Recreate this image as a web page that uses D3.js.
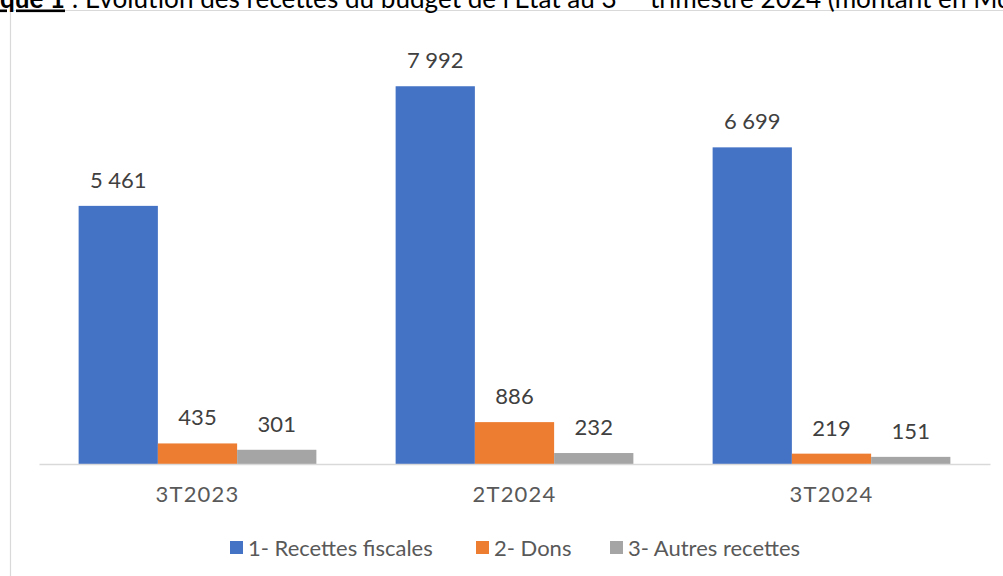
<!DOCTYPE html>
<html lang="fr">
<head>
<meta charset="UTF-8">
<title>Recettes du budget de l'Etat</title>
<script src="https://cdn.jsdelivr.net/npm/d3@7"></script>
<style>
    body { margin: 0; background: #fff; }
    svg { display: block; font-family: Lato, "Open Sans", sans-serif; }
</style>
</head>
<body>
<svg id="chart" width="1003" height="576"></svg>
<script>
// données (montants en milliards)
const categories = ['3T2023', '2T2024', '3T2024'];
const series = ['1- Recettes fiscales', '2- Dons', '3- Autres recettes'];
const recettesFiscales = [5461, 7992, 6699];
const dons = [435, 886, 219];
const autresRecettes = [301, 232, 151];
const colors = ['#4472C4', '#ED7D31', '#A5A5A5'];

const values = [recettesFiscales, dons, autresRecettes];
const fmt = v => d3.format(',')(v).replace(/,/g, '\u202F');

const svg = d3.select('#chart');
const W = 1003, H = 576;
const plot = { left: 39, right: 990, top: 38.6, bottom: 464 };

// cadre du graphique
svg.append('path')
    .attr('d', `M10.5,${H} V10.5 H${W}`)
    .attr('fill', 'none')
    .attr('stroke', '#D9D9D9')
    .attr('stroke-width', 1.2);

// titre (coupé en haut de l'image) : "que 1" doit commencer à x=0 et "3" finir vers x=617
const title = svg.append('text')
    .attr('y', 7.5)
    .attr('font-family', 'Lato, sans-serif')
    .attr('font-size', 24)
    .attr('fill', '#000');
const bold = title.append('tspan').attr('font-weight', 'bold').attr('text-decoration', 'underline').text('Graphi');
const hw = bold.node().getComputedTextLength();
bold.text('Graphique 1');
const part1 = title.append('tspan').text(' : Évolution des recettes du budget de l\u2019Etat au 3');
const visibleW = bold.node().getComputedTextLength() - hw + part1.node().getComputedTextLength();
const fs = 24 * 617 / visibleW;
title.attr('font-size', fs).attr('x', -hw * fs / 24);
title.append('tspan').attr('font-size', fs * 0.6).attr('dy', -fs * 0.5).text('ème');
const part2 = title.append('tspan').attr('dy', fs * 0.5).text(' trimestre 2024 (montant en Mds FCFA)');
// recale "trimestre" vers x=650
const p2x = part2.node().getStartPositionOfChar(1).x;
part2.attr('dx', 650 - p2x);

const x0 = d3.scaleBand().domain(categories).range([plot.left, plot.right]).paddingInner(0).paddingOuter(0);
const x1 = d3.scaleBand().domain(series).range([x0.bandwidth() * 0.125, x0.bandwidth() * 0.875]);
const y = d3.scaleLinear().domain([0, 9000]).range([plot.bottom, plot.top]);

const groups = svg.selectAll('g.cat')
    .data(categories)
    .join('g')
    .attr('class', 'cat')
    .attr('transform', d => `translate(${x0(d)},0)`);

groups.each(function (cat, ci) {
    const g = d3.select(this);
    series.forEach((s, si) => {
        const v = values[si][ci];
        g.append('rect')
            .attr('x', x1(s))
            .attr('width', x1.bandwidth())
            .attr('y', y(v))
            .attr('height', y(0) - y(v))
            .attr('fill', colors[si]);
        g.append('text')
            .attr('x', x1(s) + x1.bandwidth() / 2)
            .attr('y', y(v) - 18)
            .attr('text-anchor', 'middle')
            .attr('font-size', 22)
            .attr('fill', '#404040')
            .text(fmt(v));
    });
});

// axe des catégories
const xAxis = svg.append('g')
    .attr('transform', `translate(0,${plot.bottom})`)
    .call(d3.axisBottom(x0).tickSize(0).tickPadding(22));
xAxis.select('.domain').attr('stroke', '#D9D9D9').attr('stroke-width', 1.5);
xAxis.selectAll('text')
    .attr('font-size', 22)
    .attr('letter-spacing', 1.2)
    .attr('font-family', 'Lato, sans-serif')
    .attr('fill', '#595959');

// légende
const legend = svg.append('g').attr('transform', 'translate(230,548)');
const legendX = [0, 246, 380];
series.forEach((s, i) => {
    const item = legend.append('g').attr('transform', `translate(${legendX[i]},0)`);
    item.append('rect')
        .attr('x', 0).attr('y', -7)
        .attr('width', 13).attr('height', 13)
        .attr('fill', colors[i]);
    item.append('text')
        .attr('x', 18).attr('y', 7.5)
        .attr('font-size', 22)
        .attr('fill', '#595959')
        .text(s);
});
</script>
</body>
</html>
